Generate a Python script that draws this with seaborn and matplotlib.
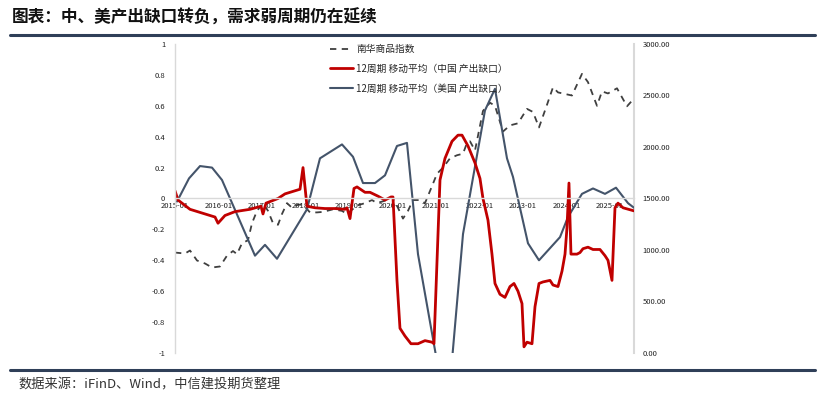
import matplotlib
matplotlib.use("Agg")
import matplotlib.pyplot as plt
import seaborn as sns
import pandas as pd
from matplotlib.lines import Line2D

sns.set_theme(style="white")
plt.rcParams['font.family'] = ['Noto Sans CJK SC', 'DejaVu Sans']
plt.rcParams['axes.unicode_minus'] = False

title = "图表：中、美产出缺口转负，需求弱周期仍在延续"
source = "数据来源：iFinD、Wind，中信建投期货整理"
label_nh = "南华商品指数"
label_cn = "12周期 移动平均（中国 产出缺口）"
label_us = "12周期 移动平均（美国 产出缺口）"

x_ticks = [2015, 2016, 2017, 2018, 2019, 2020, 2021, 2022, 2023, 2024, 2025]
x_tick_labels = ["2015-01", "2016-01", "2017-01", "2018-01", "2019-01", "2020-01",
                 "2021-01", "2022-01", "2023-01", "2024-01", "2025-01"]
left_ticks = [1, 0.8, 0.6, 0.4, 0.2, 0, -0.2, -0.4, -0.6, -0.8, -1]
left_tick_labels = ["1", "0.8", "0.6", "0.4", "0.2", "0", "-0.2", "-0.4", "-0.6", "-0.8", "-1"]
right_ticks = [0, 500, 1000, 1500, 2000, 2500, 3000]
right_tick_labels = ["0.00", "500.00", "1000.00", "1500.00", "2000.00", "2500.00", "3000.00"]

# US output gap (12-period moving average), time in years
us_t = [2015.046, 2015.322, 2015.575, 2015.851, 2016.080, 2016.839, 2017.069, 2017.345,
        2018.034, 2018.333, 2018.839, 2019.092, 2019.322, 2019.598, 2019.828, 2020.103,
        2020.333, 2020.586, 2021.253, 2021.621, 2022.126, 2022.356, 2022.632, 2022.770,
        2023.115, 2023.368, 2023.851, 2024.034, 2024.356, 2024.609, 2024.885, 2025.138,
        2025.414, 2025.552]
us_v = [-0.02, 0.13, 0.21, 0.20, 0.12, -0.37, -0.30, -0.39,
        -0.07, 0.26, 0.35, 0.27, 0.10, 0.10, 0.15, 0.34,
        0.36, -0.36, -1.42, -0.23, 0.57, 0.71, 0.26, 0.14,
        -0.29, -0.40, -0.25, -0.12, 0.03, 0.065, 0.03, 0.07,
        -0.03, -0.06]

# China output gap (12-period moving average)
cn_t = [2015.000, 2015.069, 2015.345, 2015.690, 2015.920, 2015.989, 2016.149, 2016.379,
        2016.724, 2016.977, 2017.023, 2017.092, 2017.368, 2017.529, 2017.644, 2017.874,
        2017.943, 2018.034, 2018.218, 2018.448, 2018.678, 2018.908, 2018.954, 2019.023,
        2019.115, 2019.184, 2019.368, 2019.483, 2019.667, 2019.828, 2019.966, 2020.011,
        2020.103, 2020.172, 2020.287, 2020.425, 2020.586, 2020.747, 2020.908, 2020.954,
        2021.092, 2021.207, 2021.368, 2021.506, 2021.598, 2021.736, 2021.897, 2022.011,
        2022.080, 2022.195, 2022.287, 2022.356, 2022.471, 2022.586, 2022.701, 2022.793,
        2022.885, 2022.977, 2023.023, 2023.092, 2023.207, 2023.276, 2023.368, 2023.460,
        2023.621, 2023.690, 2023.805, 2023.897, 2023.966, 2024.011, 2024.057, 2024.103,
        2024.241, 2024.310, 2024.379, 2024.494, 2024.609, 2024.770, 2024.885, 2024.954,
        2025.046, 2025.115, 2025.184, 2025.299, 2025.552]
cn_v = [0.05, -0.01, -0.07, -0.10, -0.12, -0.16, -0.11, -0.085,
        -0.07, -0.05, -0.10, -0.03, 0.0, 0.03, 0.04, 0.06,
        0.20, -0.05, -0.06, -0.065, -0.065, -0.07, -0.06, -0.13,
        0.065, 0.075, 0.04, 0.04, 0.015, -0.01, 0.01, 0.01,
        -0.53, -0.84, -0.89, -0.94, -0.94, -0.92, -0.93, -0.94,
        0.12, 0.26, 0.37, 0.41, 0.41, 0.34, 0.23, 0.13,
        0.0, -0.14, -0.36, -0.55, -0.62, -0.64, -0.57, -0.55,
        -0.60, -0.68, -0.96, -0.93, -0.94, -0.70, -0.55, -0.54,
        -0.53, -0.56, -0.57, -0.47, -0.36, -0.19, 0.10, -0.36,
        -0.36, -0.35, -0.325, -0.315, -0.33, -0.33, -0.37, -0.40,
        -0.53, -0.06, -0.03, -0.06, -0.08]

# Nanhua commodity index (right axis)
nh_t = [2015.000, 2015.230, 2015.345, 2015.506, 2015.690, 2015.851, 2016.034, 2016.195,
        2016.333, 2016.425, 2016.540, 2016.678, 2016.770, 2016.885, 2017.023, 2017.138,
        2017.253, 2017.368, 2017.460, 2017.575, 2017.690, 2017.828, 2017.943, 2018.103,
        2018.264, 2018.402, 2018.632, 2018.839, 2018.954, 2019.184, 2019.368, 2019.529,
        2019.644, 2019.874, 2019.989, 2020.126, 2020.241, 2020.356, 2020.471, 2020.632,
        2020.747, 2020.908, 2021.023, 2021.161, 2021.322, 2021.483, 2021.621, 2021.713,
        2021.782, 2021.897, 2022.080, 2022.241, 2022.356, 2022.540, 2022.701, 2022.885,
        2023.092, 2023.230, 2023.368, 2023.552, 2023.690, 2023.805, 2024.126, 2024.356,
        2024.494, 2024.701, 2024.816, 2024.954, 2025.161, 2025.391, 2025.529]
nh_v = [975, 966, 995, 898, 869, 830, 840, 945,
        990, 960, 1065, 1095, 1260, 1380, 1455, 1380,
        1260, 1245, 1350, 1455, 1410, 1440, 1440, 1365,
        1365, 1370, 1395, 1380, 1350, 1432, 1455, 1485,
        1455, 1485, 1515, 1410, 1305, 1380, 1485, 1485,
        1455, 1620, 1740, 1800, 1890, 1920, 1935, 2040,
        2055, 1966, 2350, 2430, 2400, 2150, 2210, 2230,
        2370, 2340, 2190, 2410, 2580, 2530, 2500, 2710,
        2630, 2400, 2540, 2520, 2570, 2395, 2460]

RED = "#C00000"
BLUE = "#44546A"
DASH = "#3F3F3F"
GRID = "#D9D9D9"

fig = plt.figure(figsize=(8.32, 3.97), dpi=100)
ax = fig.add_axes([175 / 832, 1 - 353 / 397, (634 - 175) / 832, (353 - 44) / 397])
ax2 = ax.twinx()

df_us = pd.DataFrame({"t": us_t, "v": us_v})
df_cn = pd.DataFrame({"t": cn_t, "v": cn_v})
df_nh = pd.DataFrame({"t": nh_t, "v": nh_v})

sns.lineplot(data=df_us, x="t", y="v", ax=ax, color=BLUE, lw=1.5, estimator=None, sort=False)
sns.lineplot(data=df_cn, x="t", y="v", ax=ax, color=RED, lw=2.0, estimator=None, sort=False)
sns.lineplot(data=df_nh, x="t", y="v", ax=ax2, color=DASH, lw=1.3, estimator=None, sort=False,
             dashes=False)
ax2.lines[0].set_dashes((3.5, 3))

xmin, xmax = 2015.0, 2025.552
for a in (ax, ax2):
    a.set_xlim(xmin, xmax)
    a.set_xlabel("")
    a.set_ylabel("")
    a.grid(False)
    a.set_facecolor("none")

ax.set_ylim(-1, 1)
ax2.set_ylim(0, 3000)
ax.set_yticks(left_ticks)
ax.set_yticklabels(left_tick_labels)
ax2.set_yticks(right_ticks)
ax2.set_yticklabels(right_tick_labels)
ax.set_xticks(x_ticks)
ax.set_xticklabels(x_tick_labels)

ax.spines['bottom'].set_position(('data', 0))
for a in (ax, ax2):
    for s in ('top', 'bottom', 'left', 'right'):
        a.spines[s].set_visible(False)
ax.spines['bottom'].set_visible(True)
ax.spines['bottom'].set_color(GRID)
ax.spines['bottom'].set_linewidth(1.0)
ax.spines['left'].set_visible(True)
ax.spines['left'].set_color(GRID)
ax.spines['left'].set_linewidth(1.0)
ax2.spines['right'].set_visible(True)
ax2.spines['right'].set_color(GRID)
ax2.spines['right'].set_linewidth(1.5)

ax.tick_params(axis='x', length=0, pad=2.5, labelsize=5.5, colors="#222222")
ax.tick_params(axis='y', length=0, pad=7, labelsize=5.5, colors="#222222")
ax2.tick_params(axis='y', length=0, pad=6, labelsize=5.5, colors="#222222")
ax.set_zorder(ax2.get_zorder() + 1)

handles = [Line2D([], [], color=DASH, lw=1.3, dashes=(3.5, 3)),
           Line2D([], [], color=RED, lw=2.0),
           Line2D([], [], color=BLUE, lw=1.5)]
fig.legend(handles, [label_nh, label_cn, label_us], loc="upper left",
           bbox_to_anchor=(330 / 832, 1 - 44 / 397), frameon=False, fontsize=7,
           handlelength=2.4, handletextpad=0.3, labelspacing=1.0, borderpad=0,
           borderaxespad=0)

fig.text(12 / 832, 1 - 18 / 397, title, fontsize=12, fontweight="bold",
         va="center", ha="left", color="#111111")
fig.text(18 / 832, 1 - 385 / 397, source, fontsize=9.5, style="italic",
         va="center", ha="left", color="#333333")
fig.add_artist(Line2D([10 / 832, 815 / 832], [1 - 35 / 397, 1 - 35 / 397],
                      color="#2F3F58", lw=2.2))
fig.add_artist(Line2D([10 / 832, 815 / 832], [1 - 370 / 397, 1 - 370 / 397],
                      color="#2F3F58", lw=2.2))

fig.savefig("out.png", dpi=100)
